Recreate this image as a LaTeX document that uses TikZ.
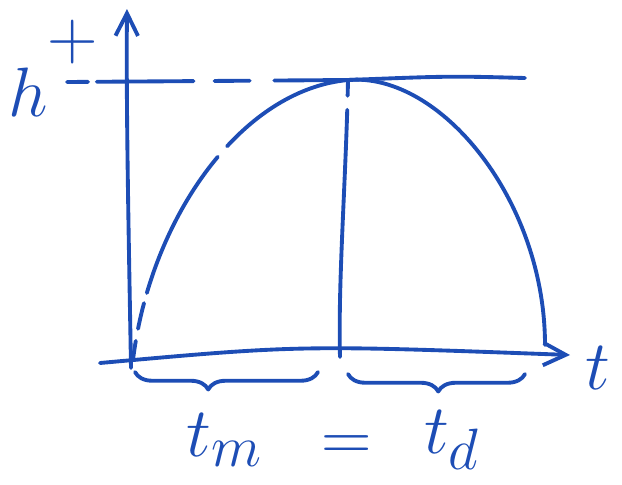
\documentclass[tikz,border=0pt]{standalone}
\usetikzlibrary{arrows.meta,decorations.pathreplacing}
\definecolor{ink}{HTML}{1D4DB5}

\tikzset{
  pen/.style={draw=ink, line width=2.2pt, line cap=round, line join=round},
  scrawl/.style={text=ink, inner sep=0pt, scale=1.6, font=\Huge},
  tip/.style={-{Straight Barb[length=0.45cm,width=0.45cm,line width=2.2pt]}},
  underbrace/.style={pen, decorate, decoration={brace, mirror, amplitude=0.35cm, aspect=#1}}
}

\begin{document}
\begin{tikzpicture}[x=0.02cm,y=-0.02cm]
\useasboundingbox (0,0) rectangle (622,484);
\coordinate (low) at (131,368);
\coordinate (origin) at (133,360);
\coordinate (ytip) at (127,9);
\coordinate (xstart) at (100,363);
\coordinate (xtip) at (570,355);
\coordinate (hleft) at (67,82);
\coordinate (peak) at (348,80);
\coordinate (hright) at (525,78);
\coordinate (foot) at (340,357);
\coordinate (land) at (545,345);
\draw[pen, tip] (low) .. controls (129,250) and (126,110) .. (ytip);
\draw[pen, tip] (xstart) .. controls (300,345) .. (xtip);
\draw[pen, dash pattern={on 12pt off 5pt on 55pt off 12pt on 20pt off 14pt on 60pt}] (hleft) -- (peak);
\draw[pen] (peak) .. controls (450,76) .. (hright);
\draw[pen, dash pattern={on 11pt off 7pt on 15pt off 6pt on 88pt off 8pt on 200pt}] (origin) .. controls (150,220) and (240,90) .. (peak);
\draw[pen] (peak) .. controls (440,72) and (545,200) .. (land);
\draw[pen, dash pattern={on 9pt off 8pt on 300pt}] (peak) .. controls (346,180) and (338,280) .. (foot);
\draw[underbrace=0.4] (135,372) -- (318,372);
\draw[underbrace=0.51] (348,374) -- (525,374);
\node[scrawl, anchor=base west] (hlabel) at (8,116) {$h^{\raisebox{0.45em}{$\textstyle +$}}$};
\node[scrawl] (tlabel) at (598,368) {$t$};
\node[scrawl] (tm) at (225,440) {$t_m$};
\node[scrawl] (eq) at (347,448) {$=$};
\node[scrawl] (td) at (452,440) {$t_d$};
\end{tikzpicture}
\end{document}
